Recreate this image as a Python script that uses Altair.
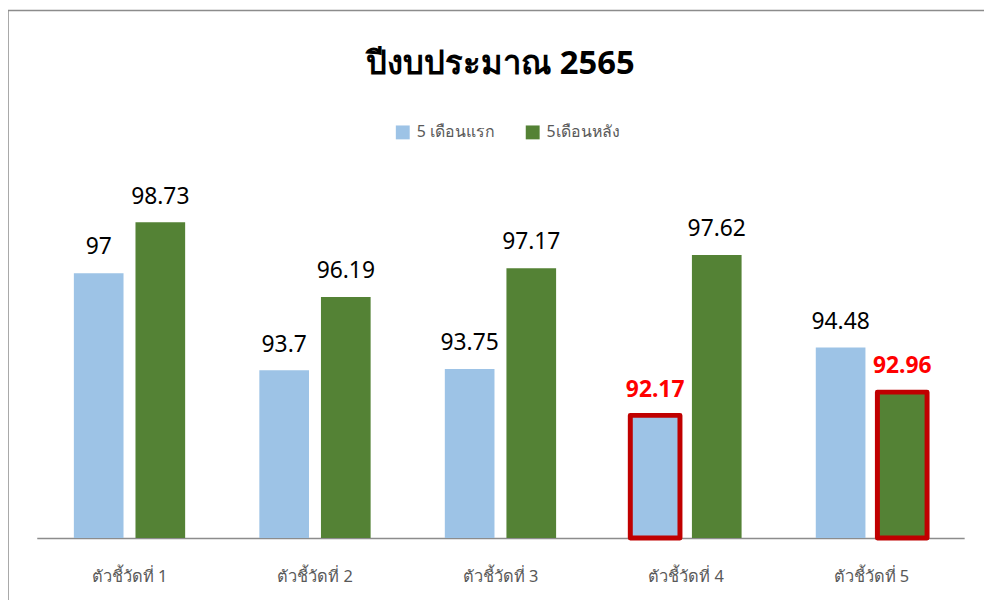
import altair as alt
import pandas as pd

# ---- data ----
categories = ["ตัวชี้วัดที่ 1", "ตัวชี้วัดที่ 2", "ตัวชี้วัดที่ 3", "ตัวชี้วัดที่ 4", "ตัวชี้วัดที่ 5"]
series = ["5 เดือนแรก", "5เดือนหลัง"]
first5 = [97, 93.7, 93.75, 92.17, 94.48]
last5 = [98.73, 96.19, 97.17, 97.62, 92.96]
flagged = [("ตัวชี้วัดที่ 4", "5 เดือนแรก"), ("ตัวชี้วัดที่ 5", "5เดือนหลัง")]
title_text = "ปีงบประมาณ 2565"
y_floor, y_ceil = 88, 100

rows = []
for c, a, b in zip(categories, first5, last5):
    for s, v in zip(series, (a, b)):
        rows.append({"cat": c, "series": s, "value": v,
                     "label": f"{v:g}", "hl": (c, s) in flagged})
df = pd.DataFrame(rows)

FONT = "Noto Sans"
W, H = 935, 356

x = alt.X("cat:N", sort=categories,
          scale=alt.Scale(paddingInner=0.4, paddingOuter=0.2),
          axis=alt.Axis(title=None, labelAngle=0, ticks=False,
                        domainColor="#8c8c8c", domainWidth=1.5,
                        labelColor="#595959", labelFontSize=16.5, labelFont=FONT,
                        labelPadding=31))
xo = alt.XOffset("series:N", sort=series,
                 scale=alt.Scale(paddingInner=0.194, paddingOuter=0))
y = alt.Y("value:Q", scale=alt.Scale(domain=[y_floor, y_ceil], zero=False, nice=False),
          axis=None)

base = alt.Chart(df)

bars = base.mark_bar(stroke="#C00000", strokeJoin="round").encode(
    x=x, xOffset=xo, y=y, y2=alt.datum(y_floor),
    color=alt.Color("series:N", sort=series,
                    scale=alt.Scale(domain=series, range=["#9DC3E6", "#548235"]),
                    legend=alt.Legend(title=None, orient="none", direction="horizontal",
                                      legendX=361, legendY=-61,
                                      symbolType="square", symbolSize=196,
                                      symbolStrokeWidth=0,
                                      labelFontSize=16, labelFont=FONT,
                                      labelColor="#595959", labelOffset=6,
                                      columnPadding=30)),
    strokeWidth=alt.condition("datum.hl", alt.value(5), alt.value(0)),
)

labels = base.mark_text(baseline="alphabetic", dy=-19, fontSize=23, font=FONT,
                        color="#000000").encode(
    x=x, xOffset=xo, y=y, text="label:N",
).transform_filter("!datum.hl")

labels_hl = base.mark_text(baseline="alphabetic", dy=-19, fontSize=23, font=FONT,
                           color="#FF0000", fontWeight="bold").encode(
    x=x, xOffset=xo, y=y, text="label:N",
).transform_filter("datum.hl")

frame_df = alt.Data(values=[{"k": 1}])
left_edge = alt.Chart(frame_df).mark_rule(color="#8c8c8c", strokeWidth=1.5).encode(
    x=alt.value(-29), y=alt.value(-176), y2=alt.value(424))
top_edge = alt.Chart(frame_df).mark_rule(color="#8c8c8c", strokeWidth=1.5).encode(
    x=alt.value(-29), x2=alt.value(975), y=alt.value(-176))

chart = alt.layer(left_edge, top_edge, bars, labels, labels_hl).properties(
    width=W, height=H,
    background="white",
    title=alt.TitleParams(title_text, anchor="middle", fontSize=33, font=FONT,
                          fontWeight="bold", color="#000000", offset=-72),
    autosize=alt.AutoSizeParams(type="none"),
    padding={"left": 29, "top": 176, "right": 20, "bottom": 60},
).configure_view(stroke="transparent", strokeWidth=0)

chart.save("out.html", embed_options={"renderer": "svg", "actions": False})
